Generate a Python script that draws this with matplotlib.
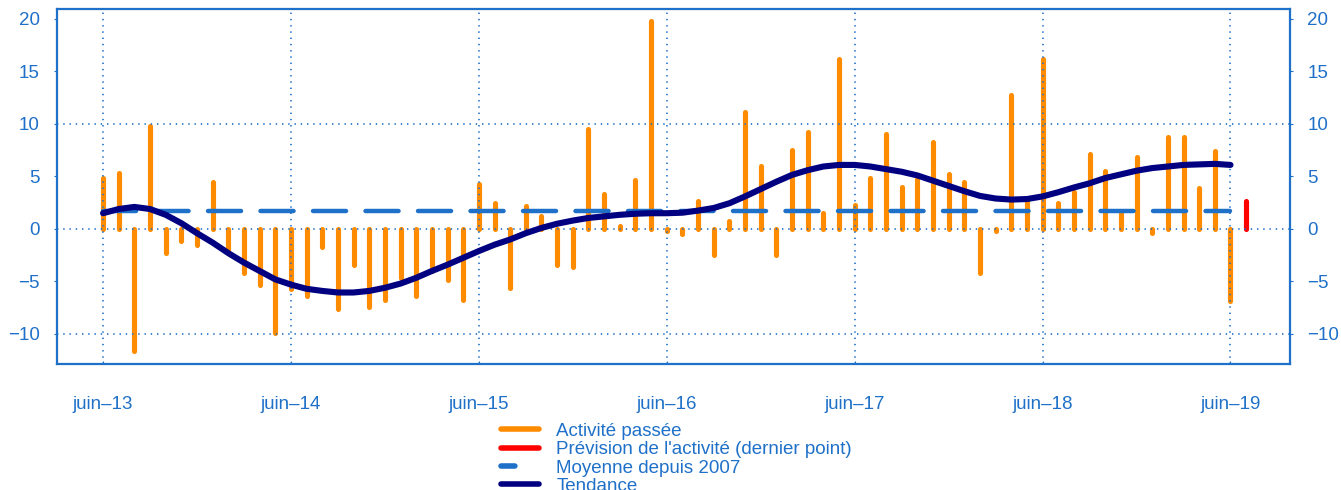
import numpy as np
import matplotlib
matplotlib.use("Agg")
import matplotlib.pyplot as plt
from matplotlib.lines import Line2D

plt.rcParams['font.family'] = ['Liberation Sans', 'DejaVu Sans']
plt.rcParams['lines.scale_dashes'] = False

# monthly data, juin-13 .. juin-19
activite = [4.9, 5.3, -11.6, 9.8, -2.3, -1.1, -1.55, 4.5, -2.0, -4.2, -5.35, -9.9,
            -5.75, -6.4, -1.7, -7.6, -3.45, -7.4, -6.8, -4.7, -6.4, -4.0, -4.85, -6.8,
            4.3, 2.5, -5.6, 2.2, 1.25, -3.45, -3.65, 9.5, 3.3, 0.25, 4.7, 19.8,
            -0.15, -0.45, 2.7, -2.5, 0.8, 11.1, 6.0, -2.5, 7.5, 9.2, 1.5, 16.2,
            2.3, 4.85, 9.0, 4.0, 4.8, 8.3, 5.25, 4.5, -4.2, -0.2, 12.75, 2.8,
            16.2, 2.45, 3.5, 7.1, 5.5, 1.6, 6.9, -0.4, 8.8, 8.8, 3.9, 7.45,
            -6.9]
prevision = [2.7]  # juil-19
tendance = [1.5, 1.9, 2.1, 1.9, 1.35, 0.55, -0.4, -1.3, -2.3, -3.2, -4.0, -4.8,
            -5.3, -5.7, -5.9, -6.05, -6.05, -5.9, -5.6, -5.2, -4.65, -4.0, -3.4, -2.75,
            -2.1, -1.5, -1.0, -0.4, 0.1, 0.5, 0.8, 1.05, 1.2, 1.35, 1.45, 1.5,
            1.5, 1.55, 1.75, 2.0, 2.45, 3.1, 3.8, 4.5, 5.15, 5.6, 5.95, 6.1,
            6.1, 5.95, 5.7, 5.45, 5.1, 4.6, 4.1, 3.6, 3.15, 2.9, 2.8, 2.85,
            3.1, 3.5, 3.95, 4.35, 4.85, 5.2, 5.55, 5.8, 5.95, 6.1, 6.15, 6.2,
            6.1]
moyenne = 1.7
xlabels = ['juin\u201313', 'juin\u201314', 'juin\u201315', 'juin\u201316',
           'juin\u201317', 'juin\u201318', 'juin\u201319']
yticks = [-10, -5, 0, 5, 10, 15, 20]

blue = '#1f70c8'
orange = '#ff8c00'
navy = '#000080'

n = len(activite)
x = np.arange(n)
xt = np.arange(0, n, 12)

fig = plt.figure(figsize=(13.41, 4.90), dpi=100)
ax = fig.add_axes([57/1341, 1-364/490, (1290-57)/1341, (364-9)/490])

ax.vlines(x, 0, activite, colors=orange, linewidth=3.7, capstyle='round', zorder=2)
ax.vlines([n], 0, prevision, colors='#ff0000', linewidth=3.7, capstyle='round', zorder=2)

# dotted grid on top of the bars
for v in xt:
    ax.axvline(v, color=blue, linestyle=(0, (1, 3.5)), linewidth=1.2, zorder=3)
for h in [-10, 0, 10]:
    ax.axhline(h, color=blue, linestyle=(0, (1, 3.5)), linewidth=1.2, zorder=3)

ax.plot(x, [moyenne]*n, color=blue, linewidth=3.2, dashes=(23.8, 14.0),
        dash_capstyle='round', zorder=4)
ax.plot(x, tendance, color=navy, linewidth=4.4, solid_capstyle='round', zorder=5)

ax.set_xlim(-2.94, 75.8)
ax.set_ylim(-12.86, 20.95)
ax.set_xticks(xt)
ax.set_xticklabels(xlabels)
ax.set_yticks(yticks)
ax.set_yticklabels([str(t).replace('-', '\u2212') for t in yticks])
ax.tick_params(axis='y', left=True, right=True, labelleft=True, labelright=True,
               colors=blue, labelsize=13.5, length=2.5, pad=10)
ax.tick_params(axis='x', colors=blue, labelsize=13.5, length=2.5, pad=23, direction='in')
for s in ax.spines.values():
    s.set_color(blue)
    s.set_linewidth(1.6)

handles = [
    Line2D([], [], color=orange, linewidth=4, solid_capstyle='round'),
    Line2D([], [], color='#ff0000', linewidth=4, solid_capstyle='round'),
    Line2D([], [], color=blue, linewidth=4, dashes=(10, 40), dash_capstyle='round'),
    Line2D([], [], color=navy, linewidth=4, solid_capstyle='round'),
]
labels = ['Activité passée', "Prévision de l'activité (dernier point)",
          'Moyenne depuis 2007', 'Tendance']
leg = fig.legend(handles, labels, loc='upper left', bbox_to_anchor=(501/1341, 1-422.5/490),
                 frameon=False, borderpad=0, borderaxespad=0, labelspacing=0.07,
                 handlelength=2.05, handletextpad=0.9, fontsize=13.5)
for t in leg.get_texts():
    t.set_color(blue)

fig.savefig('out.png', dpi=100)
